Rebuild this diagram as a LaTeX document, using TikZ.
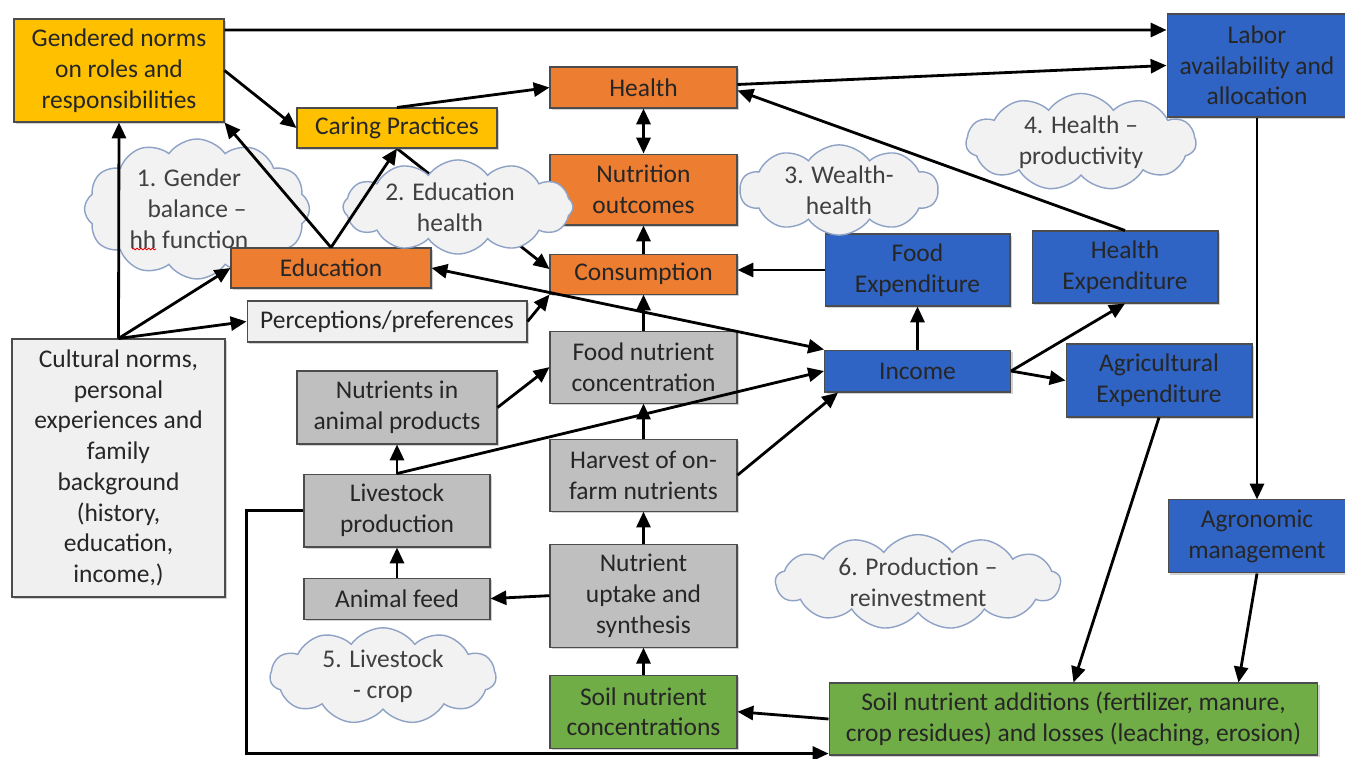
\documentclass[tikz,border=0pt]{standalone}
\usepackage{fontspec}
\setmainfont{Carlito}
\usetikzlibrary{positioning,shapes.symbols,arrows.meta,shadows,backgrounds,decorations.pathmorphing}

\definecolor{gold}{HTML}{FFC000}
\definecolor{carrot}{HTML}{ED7D31}
\definecolor{ocean}{HTML}{2F63C4}
\definecolor{leaf}{HTML}{70AD47}
\definecolor{stone}{HTML}{BFBFBF}
\definecolor{mist}{HTML}{F0F0F0}
\definecolor{cloudfill}{HTML}{F2F2F2}
\definecolor{cloudline}{HTML}{8EA2C6}

\begin{document}
\begin{tikzpicture}[x=0.02cm,y=-0.02cm]

		\tikzstyle{module}=[rectangle,
			draw=black!70,line width=0.6pt,
			align=center,inner sep=0mm,
			text=black!85,
			font=\fontsize{14.5}{17.5}\selectfont,
			drop shadow={shadow xshift=1.2pt,shadow yshift=-1.2pt,opacity=0.35}]
		\tikzstyle{talk}=[cloud,cloud puffs=12,cloud puff arc=110,
			cloud ignores aspect,
			fill=cloudfill,draw=cloudline,line width=0.8pt,
			align=center,inner sep=0mm,
			text=black!75,
			font=\fontsize{14.5}{17.5}\selectfont]
		\tikzstyle{arrow}=[->,>={Triangle[length=9pt,width=8pt]},
			draw=black,line width=1.6pt]

		\useasboundingbox (0,0) rectangle (1345,759);

		% household side
		\node[module,fill=gold,minimum width=4.2cm,minimum height=2.06cm]	(gender-n)	at (119,70.5)	{Gendered norms\\ on roles and\\ responsibilities};
		\node[module,fill=gold,minimum width=4.0cm,minimum height=0.8cm]	(caring)	at (397,128)	{Caring Practices};
		\node[module,fill=carrot,minimum width=4.0cm,minimum height=0.8cm]	(education)	at (331,268)	{Education};
		\node[module,fill=mist,minimum width=5.6cm,minimum height=0.82cm]	(perception)	at (387,321.5)	{Perceptions/preferences};
		\node[module,fill=mist,minimum width=4.26cm,minimum height=5.16cm]	(culture)	at (118.5,468)	{Cultural norms,\\ personal\\ experiences and\\ family\\ background\\ (history,\\ education,\\ income,)};

		% outcomes column
		\node[module,fill=carrot,minimum width=3.74cm,minimum height=0.82cm]	(health)	at (643.5,87.5)	{Health};
		\node[module,fill=carrot,minimum width=3.74cm,minimum height=1.42cm,below=0.9cm of health]	(nutrition)	{Nutrition\\ outcomes};
		\node[module,fill=carrot,minimum width=3.74cm,minimum height=0.8cm,below=0.56cm of nutrition]	(consumption)	{Consumption};

		% nutrient column
		\node[module,fill=stone,minimum width=3.74cm,minimum height=1.44cm,below=0.72cm of consumption]	(food-c)	{Food nutrient\\ concentration};
		\node[module,fill=stone,minimum width=3.74cm,minimum height=1.44cm,below=0.7cm of food-c]	(harvest)	{Harvest of on-\\ farm nutrients};
		\node[module,fill=stone,minimum width=3.74cm,minimum height=2.06cm,below=0.64cm of harvest]	(uptake)	{Nutrient\\ uptake and\\ synthesis};
		\node[module,fill=leaf,minimum width=3.74cm,minimum height=1.46cm,below=0.54cm of uptake]	(soil-c)	{Soil nutrient\\ concentrations};

		% livestock column
		\node[module,fill=stone,minimum width=4.0cm,minimum height=1.46cm]	(animal-p)	at (397,407.5)	{Nutrients in\\ animal products};
		\node[module,fill=stone,minimum width=3.72cm,minimum height=1.46cm,below=0.58cm of animal-p]	(livestock)	{Livestock\\ production};
		\node[module,fill=stone,minimum width=3.72cm,minimum height=0.82cm,below=0.6cm of livestock]	(feed)	{Animal feed};

		% money side
		\node[module,fill=ocean,minimum width=3.7cm,minimum height=1.44cm]	(food-e)	at (917.5,270)	{Food\\ Expenditure};
		\node[module,fill=ocean,minimum width=3.72cm,minimum height=0.84cm,below=0.86cm of food-e]	(income)	{Income};
		\node[module,fill=ocean,minimum width=3.72cm,minimum height=1.44cm]	(health-e)	at (1125,267)	{Health\\ Expenditure};
		\node[module,fill=ocean,minimum width=3.72cm,minimum height=1.46cm]	(agri-e)	at (1159,380.5)	{Agricultural\\ Expenditure};
		\node[module,fill=ocean,minimum width=3.6cm,minimum height=2.06cm]	(labor)	at (1257,65.5)	{Labor\\ availability and\\ allocation};
		\node[module,fill=ocean,minimum width=3.56cm,minimum height=1.46cm,below=7.64cm of labor]	(agronomic)	{Agronomic\\ management};
		\node[module,fill=leaf,minimum width=9.78cm,minimum height=1.44cm]	(soil-a)	at (1073.5,719)	{Soil nutrient additions (fertilizer, manure,\\ crop residues) and losses (leaching, erosion)};

		\begin{pgfonlayer}{background}
		\fill[white] (0,0) rectangle (1345,759);
		\node[talk,minimum width=4.5cm,minimum height=2.8cm]	(cloud-1)	at (197,209)	{1. Gender\hspace*{0.32cm}\\ balance --\hspace*{0.32cm}\\ hh function\hspace*{0.32cm}};
		\draw[red!85!black,line width=0.5pt,decorate,
			decoration={snake,amplitude=0.45pt,segment length=2.2pt}]	(132,249) -- (156,249);
		\draw[arrow]	(caring.south)	--	([yshift=0.1cm]consumption.west);
		\end{pgfonlayer}

		% talking points
		\node[talk,minimum width=4.6cm,minimum height=1.65cm]	(cloud-2)	at (458,207)	{2. Education\hspace*{0.32cm}\\ health\hspace*{0.32cm}};
		\node[talk,cloud puffs=10,minimum width=3.96cm,minimum height=1.6cm]	(cloud-3)	at (839,190)	{3. Wealth-\\ health};
		\node[talk,cloud puffs=11,minimum width=4.6cm,minimum height=1.82cm]	(cloud-4)	at (1081,142)	{4. Health --\\ productivity};
		\node[talk,cloud puffs=11,minimum width=4.52cm,minimum height=1.64cm]	(cloud-5)	at (383,676)	{5. Livestock\\ - crop};
		\node[talk,cloud puffs=13,minimum width=5.7cm,minimum height=1.76cm]	(cloud-6)	at (918,582)	{6. Production --\\ reinvestment};

		\draw[arrow]	([yshift=0.81cm]gender-n.east)	--	([yshift=0.71cm]labor.west);
		\draw[arrow]	(gender-n.east)	--	(caring.west);
		\draw[arrow]	(caring.north)	--	(health.west);
		\draw[arrow]	(education.north)	--	(caring.south);
		\draw[arrow]	(education.north)	--	(gender-n.south east);

		\draw[arrow]	(culture.north)	--	(gender-n.south);
		\draw[arrow]	(culture.north)	--	(education.west);
		\draw[arrow]	(culture.north)	--	(perception.west);

		\draw[arrow]	(perception.east)	--	(consumption.south west);
		\draw[arrow,<->]	(education.east)	--	(income.north west);

		\draw[arrow,<->]	(health)	--	(nutrition);
		\draw[arrow]	(consumption)	--	(nutrition);
		\draw[arrow]	(food-c)	--	(consumption);
		\draw[arrow]	(food-e.west)	--	(food-e.west -| consumption.east);

		\draw[arrow]	(health-e.north)	--	([yshift=-0.06cm]health.east);
		\draw[arrow]	([yshift=0.06cm]health.east)	--	(labor.west);

		\draw[arrow]	(income.north)	--	(income.north |- food-e.south);
		\draw[arrow]	(income.east)	--	(health-e.south);
		\draw[arrow]	(income.east)	--	(agri-e.west);

		\draw[arrow]	(agri-e.south)	--	(soil-a.north);
		\draw[arrow]	(labor)	--	(agronomic);
		\draw[arrow]	(agronomic.south)	--	([xshift=-1.6cm]soil-a.north east);
		\draw[arrow]	(soil-a.west)	--	(soil-c.east);

		\draw[arrow]	(soil-c)	--	(uptake);
		\draw[arrow]	(uptake)	--	(harvest);
		\draw[arrow]	(harvest)	--	(food-c);
		\draw[arrow]	(harvest.east)	--	([xshift=0.28cm]income.south west);

		\draw[arrow]	(livestock.north)	--	(income.west);
		\draw[arrow]	(livestock)	--	(animal-p);
		\draw[arrow]	(feed)	--	(livestock);
		\draw[arrow]	(uptake.west)	--	(feed.east);
		\draw[arrow]	(animal-p.east)	--	(food-c.west);

		\draw[arrow]	(livestock.west)	--	++(-57,0)	|-	([yshift=0.04cm]soil-a.south west);

	\end{tikzpicture}
\end{document}
